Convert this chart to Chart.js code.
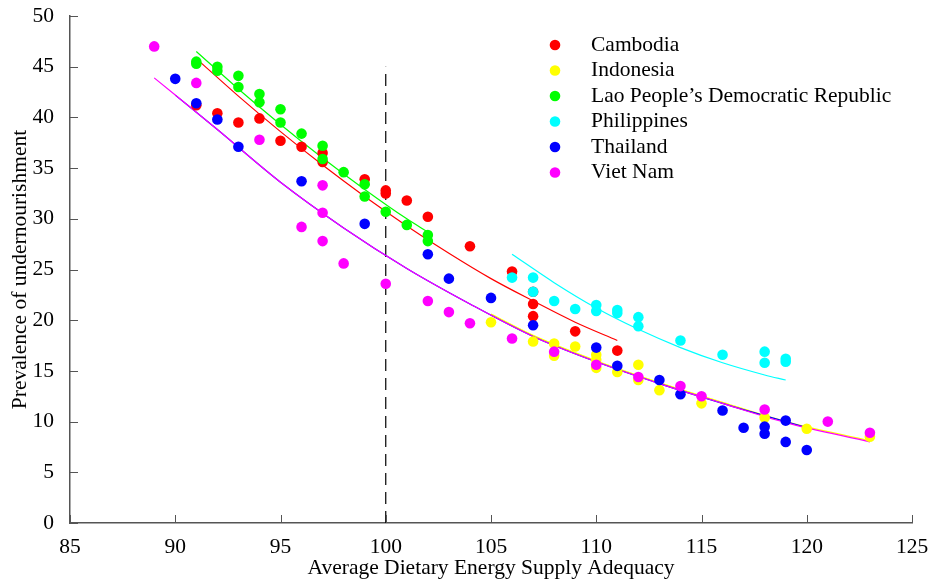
<!DOCTYPE html>
<html>
<head>
<meta charset="utf-8">
<script src="https://cdn.jsdelivr.net/npm/chart.js@4.4.0/dist/chart.umd.min.js"></script>
<style>
  html, body { margin: 0; padding: 0; background: #fff; }
</style>
</head>
<body>
<canvas id="myChart" width="931" height="581"></canvas>
<script>
// country names and colours (legend order)
var countries = ['Cambodia', 'Indonesia', 'Lao People\u2019s Democratic Republic', 'Philippines', 'Thailand', 'Viet Nam'];
var colours = ['#ff0000', '#ffff00', '#00ff00', '#00ffff', '#0000ff', '#ff00ff'];

// observed points: dietary energy supply adequacy (x) vs prevalence of undernourishment (y)
var cambodiaX = [91, 92, 93, 94, 95, 96, 97, 97, 99, 100, 100, 101, 102, 104, 106, 107, 107, 107, 109, 111];
var cambodiaY = [41.2, 40.4, 39.5, 39.9, 37.7, 37.1, 36.5, 35.6, 33.9, 32.8, 32.5, 31.8, 30.2, 27.3, 24.8, 22.8, 21.6, 20.4, 18.9, 17.0];

var indonesiaX = [105, 107, 108, 108, 109, 110, 110, 110, 111, 112, 112, 113, 115, 118, 120, 123];
var indonesiaY = [19.8, 17.9, 17.7, 16.5, 17.4, 16.6, 16.1, 15.3, 14.9, 15.6, 14.1, 13.1, 11.8, 10.4, 9.3, 8.5];

var laoX = [91, 91, 92, 92, 93, 93, 94, 94, 95, 95, 96, 97, 97, 98, 99, 99, 100, 101, 102, 102];
var laoY = [45.5, 45.3, 45.0, 44.6, 44.1, 43.0, 42.3, 41.5, 40.8, 39.5, 38.4, 37.2, 35.9, 34.6, 33.4, 32.2, 30.7, 29.4, 28.4, 27.8];

var philippinesX = [106, 107, 107, 108, 109, 110, 110, 111, 111, 112, 112, 114, 116, 118, 118, 119, 119];
var philippinesY = [24.2, 24.2, 22.8, 21.9, 21.1, 21.5, 20.9, 21.0, 20.7, 20.3, 19.4, 18.0, 16.6, 16.9, 15.8, 16.2, 15.9];

var thailandX = [90, 91, 92, 93, 96, 99, 102, 103, 105, 107, 110, 111, 113, 114, 116, 117, 118, 118, 119, 119, 120];
var thailandY = [43.8, 41.4, 39.8, 37.1, 33.7, 29.5, 26.5, 24.1, 22.2, 19.5, 17.3, 15.5, 14.1, 12.7, 11.1, 9.4, 9.5, 8.8, 10.1, 8.0, 7.2];

var vietnamX = [89, 91, 94, 96, 97, 97, 97, 98, 100, 102, 103, 104, 106, 108, 110, 112, 114, 115, 118, 121, 123];
var vietnamY = [47.0, 43.4, 37.8, 29.2, 33.3, 30.6, 27.8, 25.6, 23.6, 21.9, 20.8, 19.7, 18.2, 16.9, 15.6, 14.4, 13.5, 12.5, 11.2, 10.0, 8.9];

// fitted trend lines
var cambodiaFitX = [91, 93, 95, 97, 99, 101, 103, 105, 107, 109, 111];
var cambodiaFitY = [45.8, 42.1, 38.6, 35.3, 32.2, 29.3, 26.6, 24.1, 21.9, 19.8, 18.0];

var indonesiaFitX = [105, 107, 110, 113, 116, 119, 123];
var indonesiaFitY = [20.6, 18.5, 16.0, 13.85, 11.9, 10.0, 8.1];

var laoFitX = [91, 93, 95, 97, 99, 101, 102];
var laoFitY = [46.5, 42.8, 39.3, 36.0, 32.9, 30.0, 28.7];

var philippinesFitX = [106, 108, 110, 112, 114, 116, 118, 119];
var philippinesFitY = [26.5, 23.7, 21.2, 19.1, 17.3, 15.8, 14.6, 14.1];

var thailandFitX = [90, 92, 95, 98, 101, 104, 107, 110, 113, 116, 120];
var thailandFitY = [42.2, 38.8, 33.6, 29.1, 25.1, 21.6, 18.4, 15.9, 13.75, 11.8, 9.4];

var vietnamFitX = [89, 92, 95, 98, 101, 104, 107, 110, 113, 116, 119, 123];
var vietnamFitY = [43.9, 38.8, 33.6, 29.1, 25.1, 21.6, 18.4, 15.9, 13.75, 11.8, 9.9, 8.0];

// dashed reference line at 100% adequacy
var refLineX = [100, 100];
var refLineY = [0, 45];

var xTitle = 'Average Dietary Energy Supply Adequacy';
var yTitle = 'Prevalence of undernourishment';

var serif = '"Liberation Serif", "Times New Roman", serif';
var fontSize = 21.5;

function pairs(xs, ys) {
    return xs.map(function (x, i) { return { x: x, y: ys[i] }; });
}

var pointSets = [
    [cambodiaX, cambodiaY], [indonesiaX, indonesiaY], [laoX, laoY],
    [philippinesX, philippinesY], [thailandX, thailandY], [vietnamX, vietnamY]
];
var fitSets = [
    [cambodiaFitX, cambodiaFitY], [indonesiaFitX, indonesiaFitY], [laoFitX, laoFitY],
    [philippinesFitX, philippinesFitY], [thailandFitX, thailandFitY], [vietnamFitX, vietnamFitY]
];

var datasets = [];
// points: later countries drawn on top (lower order = on top)
for (var i = 0; i < countries.length; i++) {
    datasets.push({
        label: countries[i],
        data: pairs(pointSets[i][0], pointSets[i][1]),
        showLine: false,
        pointRadius: 5.3,
        pointHoverRadius: 5.3,
        pointBorderWidth: 0,
        backgroundColor: colours[i],
        borderColor: colours[i],
        order: 20 - i
    });
}
for (var j = 0; j < countries.length; j++) {
    datasets.push({
        label: countries[j] + ' fit',
        data: pairs(fitSets[j][0], fitSets[j][1]),
        showLine: true,
        pointRadius: 0,
        borderWidth: 1.2,
        borderColor: colours[j],
        backgroundColor: colours[j],
        cubicInterpolationMode: 'monotone',
        order: 40 - j
    });
}
datasets.push({
    label: 'ref',
    data: pairs(refLineX, refLineY),
    showLine: true,
    pointRadius: 0,
    borderWidth: 1.2,
    borderColor: '#000',
    borderDash: [12, 7],
    order: 50
});

// legend with only the six countries, drawn inside the plot
var legendPlugin = {
    id: 'pointLegend',
    afterDraw: function (chart) {
        var ctx = chart.ctx;
        ctx.save();
        ctx.font = fontSize + 'px ' + serif;
        ctx.textBaseline = 'middle';
        for (var k = 0; k < countries.length; k++) {
            var y = 45 + k * 25.5;
            ctx.fillStyle = colours[k];
            ctx.beginPath();
            ctx.arc(555, y, 5.3, 0, Math.PI * 2);
            ctx.fill();
            ctx.fillStyle = '#000';
            ctx.fillText(countries[k], 591, y);
        }
        ctx.restore();
    }
};

// tick marks pointing into the plot
var tickPlugin = {
    id: 'innerTicks',
    afterDatasetsDraw: function (chart) {
        var ctx = chart.ctx;
        var xs = chart.scales.x, ys = chart.scales.y;
        var area = chart.chartArea;
        ctx.save();
        ctx.strokeStyle = '#555';
        ctx.lineWidth = 1;
        xs.ticks.forEach(function (t) {
            var px = Math.round(xs.getPixelForValue(t.value)) + 0.5;
            ctx.beginPath();
            ctx.moveTo(px, area.bottom);
            ctx.lineTo(px, area.bottom - 8);
            ctx.stroke();
        });
        ys.ticks.forEach(function (t) {
            var py = Math.round(ys.getPixelForValue(t.value)) + 0.5;
            ctx.beginPath();
            ctx.moveTo(area.left, py);
            ctx.lineTo(area.left + 8, py);
            ctx.stroke();
        });
        ctx.restore();
    }
};

var myChart = new Chart('myChart', {
    type: 'scatter',
    data: { datasets: datasets },
    options: {
        responsive: false,
        animation: false,
        devicePixelRatio: 1,
        layout: { padding: { top: 16, right: 19, left: 0, bottom: 0 } },
        plugins: {
            legend: { display: false },
            tooltip: { enabled: false }
        },
        scales: {
            x: {
                type: 'linear',
                min: 85,
                max: 125,
                afterFit: function (s) { s.height = 58; s.paddingLeft = 0; s.paddingRight = 0; },
                ticks: { stepSize: 5, color: '#000', padding: 3, font: { family: serif, size: fontSize } },
                grid: { display: false },
                border: { display: true, color: '#555', width: 1.5 },
                title: { display: true, text: xTitle, color: '#000', padding: { top: 0, bottom: 0 }, font: { family: serif, size: fontSize } }
            },
            y: {
                type: 'linear',
                min: 0,
                max: 50,
                afterFit: function (s) { s.width = 70; s.paddingTop = 0; s.paddingBottom = 0; },
                ticks: { stepSize: 5, color: '#000', padding: 8, font: { family: serif, size: fontSize } },
                grid: { display: false },
                border: { display: true, color: '#555', width: 1.5 },
                title: { display: true, text: yTitle, color: '#000', padding: { top: 7, bottom: 0 }, font: { family: serif, size: fontSize } }
            }
        }
    },
    plugins: [legendPlugin, tickPlugin]
});
</script>
</body>
</html>
